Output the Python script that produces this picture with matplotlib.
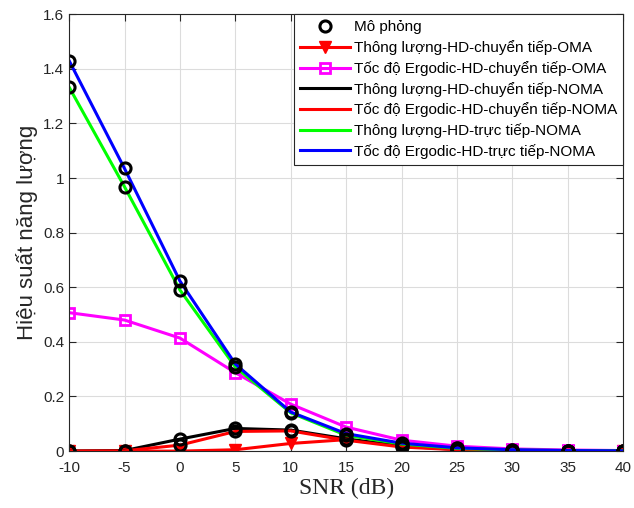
import matplotlib.pyplot as plt
import numpy as np

snr = [-10, -5, 0, 5, 10, 15, 20, 25, 30, 35, 40]

# thong luong HD chuyen tiep OMA
thr_oma = [0.0, 0.0, 0.0, 0.005, 0.028, 0.042, 0.02, 0.008, 0.003, 0.001, 0.0]
# toc do ergodic HD chuyen tiep OMA
erg_oma = [0.507, 0.48, 0.414, 0.287, 0.172, 0.088, 0.04, 0.018, 0.008, 0.004, 0.002]
# thong luong HD chuyen tiep NOMA
thr_relay = [0.0, 0.002, 0.044, 0.083, 0.077, 0.045, 0.018, 0.006, 0.002, 0.001, 0.0]
# toc do ergodic HD chuyen tiep NOMA
erg_relay = [0.0, 0.001, 0.022, 0.072, 0.074, 0.04, 0.015, 0.005, 0.002, 0.001, 0.0]
# thong luong HD truc tiep NOMA
thr_direct = [1.333, 0.968, 0.59, 0.308, 0.14, 0.058, 0.026, 0.01, 0.004, 0.002, 0.001]
# toc do ergodic HD truc tiep NOMA
erg_direct = [1.43, 1.035, 0.623, 0.319, 0.143, 0.064, 0.029, 0.012, 0.005, 0.002, 0.001]

labels = ["Mô phỏng",
          "Thông lượng-HD-chuyển tiếp-OMA",
          "Tốc độ Ergodic-HD-chuyển tiếp-OMA",
          "Thông lượng-HD-chuyển tiếp-NOMA",
          "Tốc độ Ergodic-HD-chuyển tiếp-NOMA",
          "Thông lượng-HD-trực tiếp-NOMA",
          "Tốc độ Ergodic-HD-trực tiếp-NOMA"]

plt.rcParams['font.family'] = ['Liberation Sans', 'DejaVu Sans']
plt.rcParams['axes.unicode_minus'] = False

fig = plt.figure(figsize=(6.34, 5.08), dpi=100)
ax = fig.add_axes([0.109, 0.112, 0.874, 0.860])

lw = 2.2
h1, = ax.plot(snr, thr_oma, color='red', lw=lw, marker='v', ms=8, mfc='red', mec='red')
h2, = ax.plot(snr, erg_oma, color='magenta', lw=lw, marker='s', ms=7, mfc='none', mec='magenta', mew=2)
h3, = ax.plot(snr, thr_relay, color='black', lw=lw)
h4, = ax.plot(snr, erg_relay, color='red', lw=lw)
h5, = ax.plot(snr, thr_direct, color='#00ff00', lw=lw)
h6, = ax.plot(snr, erg_direct, color='blue', lw=lw)

for s in [thr_relay, erg_relay, thr_direct, erg_direct]:
    h0, = ax.plot(snr, s, ls='none', marker='o', ms=8, mfc='none', mec='black', mew=2.2)

ax.set_xlim(-10, 40)
ax.set_ylim(0, 1.6)
ax.set_xticks(np.arange(-10, 41, 5))
ax.set_yticks([0, 0.2, 0.4, 0.6, 0.8, 1, 1.2, 1.4, 1.6])
ax.set_yticklabels(['0', '0.2', '0.4', '0.6', '0.8', '1', '1.2', '1.4', '1.6'])
ax.tick_params(direction='in', labelsize=11, colors='#262626', length=5, top=True, right=True)
ax.tick_params(axis='x', pad=7)
ax.grid(True, color='#dcdcdc', lw=0.8)
for sp in ax.spines.values():
    sp.set_color('#262626')
    sp.set_linewidth(0.8)

ax.set_xlabel('SNR (dB)', family='Liberation Serif', fontsize=17, color='#262626', labelpad=2)
ax.set_ylabel('Hiệu suất năng lượng', fontsize=16, color='#262626', labelpad=4)

leg = ax.legend([h0, h1, h2, h3, h4, h5, h6], labels, loc='upper right',
                fontsize=11, handlelength=3.3, fancybox=False, framealpha=1,
                edgecolor='#262626', borderaxespad=0.0, labelspacing=0.38,
                handletextpad=0.25, borderpad=0.4)
leg.get_frame().set_linewidth(0.8)

fig.savefig('out.png', dpi=100)
